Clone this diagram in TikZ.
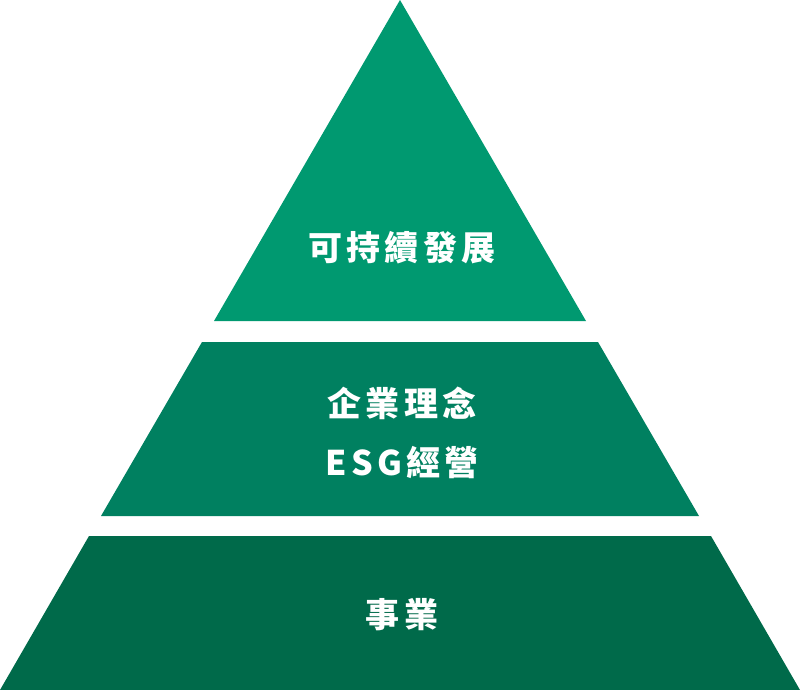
\documentclass[tikz,border=0pt]{standalone}
\usepackage{fontspec}
\usepackage{xcolor}
\newfontfamily\cjk{Noto Sans CJK TC}[LetterSpace=12]
\definecolor{topgreen}{HTML}{009970}
\definecolor{midgreen}{HTML}{008060}
\definecolor{basegreen}{HTML}{006A4A}
\usetikzlibrary{positioning}

\begin{document}
\begin{tikzpicture}[
        x=1pt, y=-1pt,
        layer/.style={draw=none},
        label/.style={text=white, font=\cjk\bfseries\fontsize{34}{59}\selectfont, align=center, inner sep=0pt}
    ]
    \useasboundingbox (0,0) rectangle (800,690);

    % Top layer
    \fill[layer, topgreen] (400,0) -- (586,321) -- (214,321) -- cycle;
    \node[label] (goal) at (402,248) {可持續發展};

    % Middle layer
    \fill[layer, midgreen] (202,342) -- (598,342) -- (699,516) -- (101,516) -- cycle;
    \node[label] (vision) at (402,433) {企業理念\\ESG經營};

    % Base layer
    \fill[layer, basegreen] (89,536) -- (711,536) -- (800,690) -- (0,690) -- cycle;
    \node[label] (business) at (402,615) {事業};

\end{tikzpicture}
\end{document}
